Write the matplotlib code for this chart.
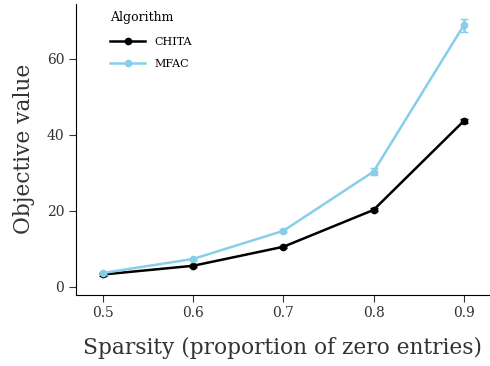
import numpy as np
import matplotlib.pyplot as plt

sparsity = [0.5, 0.6, 0.7, 0.8, 0.9]
chita = [3.2, 5.5, 10.5, 20.2, 43.6]
chita_err = [0.3, 0.3, 0.3, 0.4, 0.6]
mfac = [3.6, 7.3, 14.7, 30.3, 68.8]
mfac_err = [0.3, 0.3, 0.4, 0.9, 1.7]

plt.rcParams['font.family'] = 'DejaVu Serif'

fig, ax = plt.subplots(figsize=(4.9, 3.66), dpi=100)

for y, err, color, name in [(chita, chita_err, 'black', 'CHITA'), (mfac, mfac_err, 'skyblue', 'MFAC')]:
    ax.errorbar(sparsity, y, yerr=err, color=color, fmt='none', capsize=3, linewidth=1.8)
    ax.plot(sparsity, y, color=color, marker='o', markersize=4.5, linewidth=1.8, label=name)

ax.set_xlabel('Sparsity (proportion of zero entries)', fontsize=15.7, color='#333333', labelpad=12)
ax.set_ylabel('Objective value', fontsize=15.7, color='#333333', labelpad=8)
ax.set_xticks(sparsity)
ax.set_yticks([0, 20, 40, 60])
ax.set_xlim(0.47, 0.928)
ax.set_ylim(-2.1, 74.5)
ax.tick_params(labelsize=10, labelcolor='#333333', length=5, color='#333333')
ax.spines['top'].set_visible(False)
ax.spines['right'].set_visible(False)

leg = ax.legend(title='Algorithm', loc='upper left', frameon=False, fontsize=8, title_fontsize=9,
                bbox_to_anchor=(0.058, 1.008), handlelength=3.2, labelspacing=1.1,
                alignment='left')

fig.subplots_adjust(left=0.155, right=0.998, top=0.99, bottom=0.195)
fig.savefig('out.png')
